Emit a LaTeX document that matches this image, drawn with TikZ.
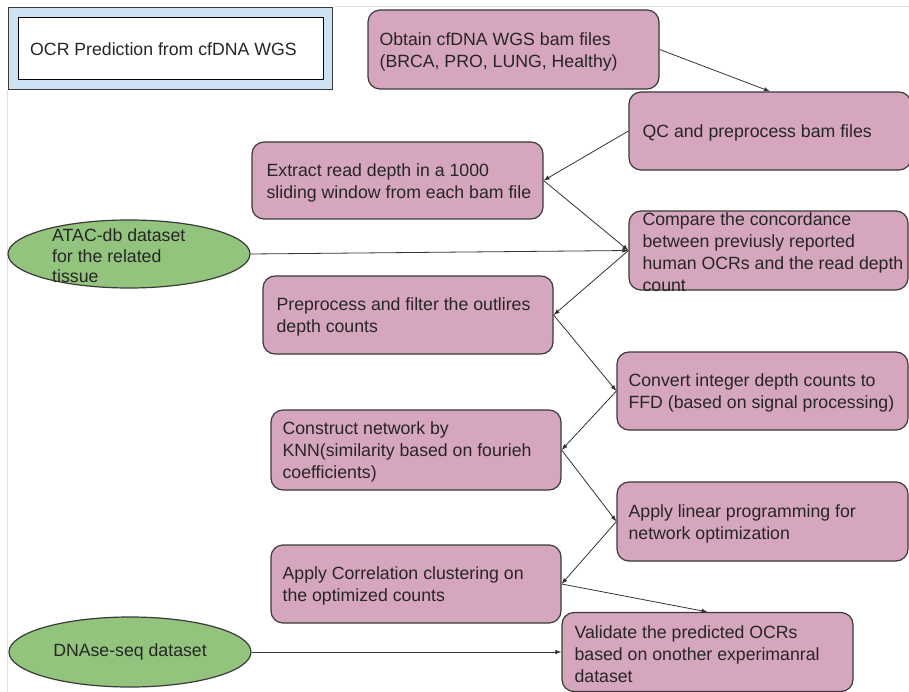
\documentclass[tikz,border=0pt]{standalone}
\usepackage{fontspec}
\setmainfont{Liberation Sans}
\usetikzlibrary{arrows.meta, positioning, shapes.geometric}
\definecolor{boxpink}{HTML}{D5A6BD}
\definecolor{ovalgreen}{HTML}{93C47D}
\definecolor{titleblue}{HTML}{CFE2F3}
\definecolor{edgegray}{HTML}{3A3A3A}

\begin{document}
\begin{tikzpicture}[x=1pt, y=-1pt,
  every node/.style={font=\fontsize{17.7}{22}\selectfont},
  stepbox/.style={draw=edgegray, line width=1.2pt, fill=boxpink, rounded corners=12pt, minimum width=291pt, minimum height=79pt, inner sep=0pt},
  steptext/.style={anchor=west, align=left, inner sep=0pt, text=black!85, yshift=-2pt},
  dataset/.style={draw=edgegray, line width=1.2pt, fill=ovalgreen, ellipse, minimum width=242pt, minimum height=69pt, inner sep=0pt},
  flow/.style={-{Latex[length=6pt,width=4.5pt]}, line width=0.8pt, black!80}
]
  \useasboundingbox (0,0) rectangle (909,692);
  % slide edges
  \draw[gray!25, line width=1pt] (335,7) -- (909,7);
  \draw[gray!25, line width=1pt] (7,90) -- (7,692);

  % title
  \node[draw=edgegray, line width=1pt, fill=titleblue, minimum width=324pt, minimum height=82pt, inner sep=0pt] (frame) at (170,49) {};
  \node[draw=black, line width=1pt, fill=white, minimum width=305pt, minimum height=62pt, inner sep=0pt] (title) at (170.5,49) {};
  \node[steptext, yshift=1pt] (title-t) at (30,48) {OCR Prediction from cfDNA WGS};

  % steps
  \node[stepbox] (obtain) at (513.5,49.5) {};
  \node[stepbox, minimum width=282pt, minimum height=78pt] (qc) at (770,131) {};
  \node[stepbox, minimum height=77pt] (extract) at (397.5,180.5) {};
  \node[stepbox, minimum width=279pt] (compare) at (768.5,250.5) {};
  \node[stepbox, minimum width=290pt, minimum height=78pt] (prep) at (408,315) {};
  \node[stepbox, minimum height=78pt] (convert) at (762.5,391) {};
  \node[stepbox, minimum width=290pt, minimum height=80pt] (knn) at (416,450) {};
  \node[stepbox] (lp) at (762.5,521.5) {};
  \node[stepbox, minimum width=290pt, minimum height=78pt] (corr) at (416,584) {};
  \node[stepbox] (valid) at (707.5,652) {};

  \node[steptext] (obtain-t) at ([xshift=12pt]obtain.west) {Obtain cfDNA WGS bam files\\(BRCA, PRO, LUNG, Healthy)};
  \node[steptext] (qc-t) at ([xshift=14pt]qc.west) {QC and preprocess bam files};
  \node[steptext] (extract-t) at ([xshift=15pt]extract.west) {Extract read depth in a 1000\\sliding window from each bam file};
  \node[steptext] (compare-t) at ([xshift=14pt]compare.west) {Compare the concordance\\between previusly reported\\human OCRs and the read depth\\count};
  \node[steptext] (prep-t) at ([xshift=14pt]prep.west) {Preprocess and filter the outlires\\depth counts};
  \node[steptext] (convert-t) at ([xshift=12pt]convert.west) {Convert integer depth counts to\\FFD (based on signal processing)};
  \node[steptext] (knn-t) at ([xshift=12pt]knn.west) {Construct network by\\KNN(similarity based on fourieh\\coefficients)};
  \node[steptext] (lp-t) at ([xshift=12pt]lp.west) {Apply linear programming for\\network optimization};
  \node[steptext] (corr-t) at ([xshift=12pt]corr.west) {Apply Correlation clustering on\\the optimized counts};
  \node[steptext] (valid-t) at ([xshift=13pt]valid.west) {Validate the predicted OCRs\\based on onother experimanral\\dataset};

  % datasets
  \node[dataset, minimum height=68pt] (atac) at (129,254) {};
  \node[steptext, yshift=1pt, font=\fontsize{17.7}{20.5}\selectfont] (atac-t) at (52,255) {ATAC-db dataset\\for the related\\tissue};
  \node[dataset, minimum height=70pt] (dnase) at (130,652) {};
  \node[text=black!85, inner sep=0pt] (dnase-t) at (dnase.center) {DNAse-seq dataset};

  % flow
  \draw[flow] (obtain.east) -- (qc.north);
  \draw[flow] (qc.west) -- (extract.east);
  \draw[flow] (extract.east) -- (compare.west);
  \draw[flow] (atac.east) -- (compare.west);
  \draw[flow] (compare.west) -- (prep.east);
  \draw[flow] (prep.east) -- (convert.west);
  \draw[flow] (convert.west) -- (knn.east);
  \draw[flow] (knn.east) -- (lp.west);
  \draw[flow] (lp.west) -- (corr.east);
  \draw[flow] (corr.east) -- (valid.north);
  \draw[flow] (dnase.east) -- (valid.west);
\end{tikzpicture}
\end{document}
